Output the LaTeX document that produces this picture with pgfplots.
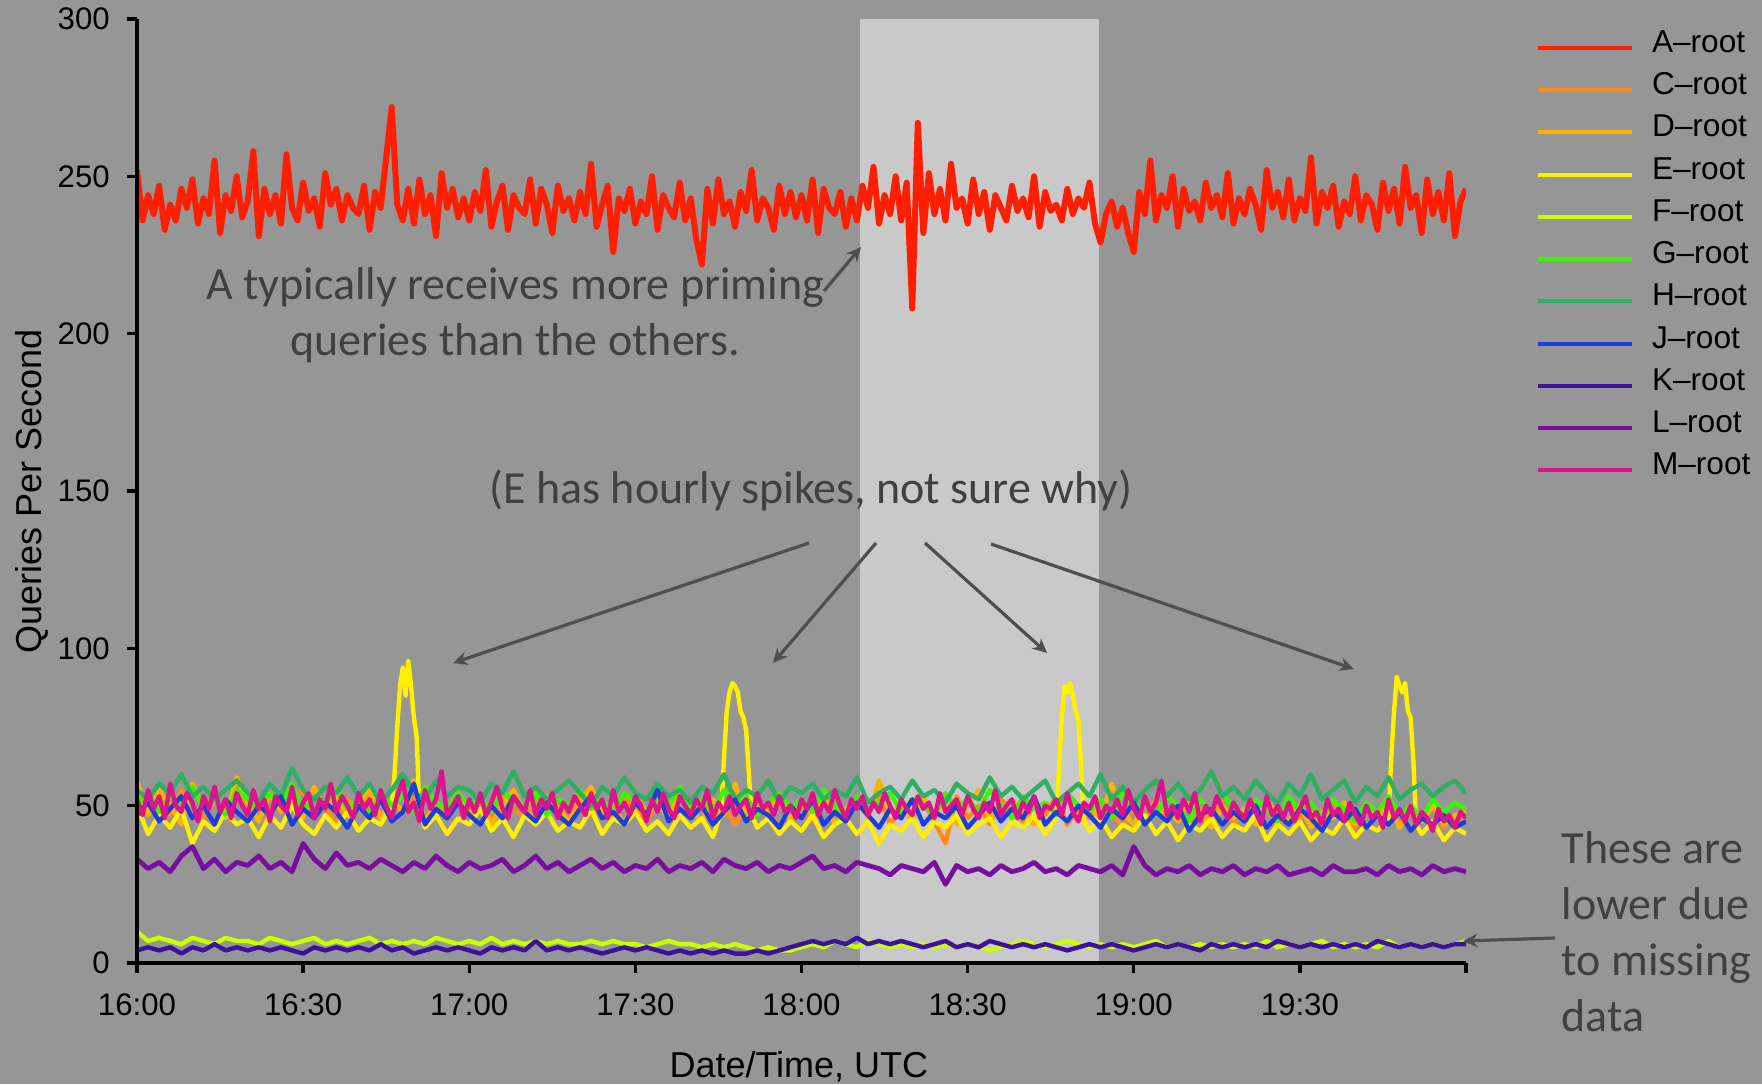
\documentclass[border=0pt]{standalone}
\usepackage{fontspec}
\setmainfont{Liberation Sans}
\newfontfamily\calibri{Carlito}
\usepackage{pgfplots}
\usepackage{pgfplotstable}
\pgfplotsset{compat=1.18}
\usetikzlibrary{arrows.meta}
\definecolor{bg}{RGB}{150,150,150}
\definecolor{shadecol}{RGB}{201,201,201}
\definecolor{anncol}{RGB}{64,64,64}
\definecolor{arrcol}{RGB}{78,78,78}
\definecolor{colA}{RGB}{255,30,0}
\definecolor{colC}{RGB}{255,140,25}
\definecolor{colD}{RGB}{255,179,0}
\definecolor{colE}{RGB}{255,240,0}
\definecolor{colF}{RGB}{204,255,0}
\definecolor{colG}{RGB}{60,245,0}
\definecolor{colH}{RGB}{46,176,98}
\definecolor{colJ}{RGB}{28,60,220}
\definecolor{colK}{RGB}{58,18,156}
\definecolor{colL}{RGB}{120,14,160}
\definecolor{colM}{RGB}{220,20,140}

\pgfplotstableread{
t A M
0 252 52
1 236 47
2 244 55
3 238 49
4 247 53
5 233 46
6 241 57
7 236 50
8 246 48
9 240 54
10 249 51
11 235 45
12 243 53
13 238 49
14 255 56
15 232 48
16 244 52
17 239 46
18 250 54
19 237 50
20 242 47
21 258 55
22 231 49
23 246 52
24 238 45
25 244 53
26 235 50
27 257 48
28 240 56
29 236 47
30 248 51
31 239 54
32 243 46
33 234 52
34 251 49
35 241 57
36 246 48
37 236 53
38 244 50
39 240 46
40 238 54
41 247 49
42 233 52
43 245 47
44 240 55
45 256 50
46 272 46
47 241 53
48 236 58
49 246 48
50 235 51
51 249 45
52 238 55
53 244 49
54 231 52
55 251 61
56 240 47
57 246 50
58 237 53
59 243 46
60 236 52
61 245 48
62 239 54
63 252 47
64 234 51
65 242 56
66 247 49
67 233 46
68 244 53
69 240 50
70 238 48
71 249 55
72 235 47
73 246 52
74 241 49
75 232 54
76 247 46
77 239 51
78 243 48
79 236 53
80 245 50
81 238 47
82 254 54
83 234 49
84 241 52
85 247 46
86 226 55
87 243 48
88 239 51
89 246 47
90 235 53
91 242 50
92 238 45
93 250 52
94 233 48
95 244 54
96 240 49
97 237 46
98 248 53
99 236 50
100 243 47
101 230 52
102 222 49
103 246 55
104 235 46
105 249 51
106 238 48
107 242 53
108 234 47
109 245 50
110 239 52
111 252 46
112 236 54
113 243 49
114 240 51
115 233 47
116 247 53
117 238 48
118 245 50
119 237 46
120 244 52
121 236 49
122 249 54
123 232 47
124 246 51
125 240 48
126 238 55
127 245 50
128 234 46
129 243 52
130 236 49
131 247 53
132 240 47
133 253 51
134 235 48
135 244 54
136 238 50
137 250 46
138 236 52
139 248 49
140 208 47
141 267 53
142 232 49
143 251 51
144 238 46
145 246 54
146 236 48
147 254 50
148 240 52
149 243 47
150 235 53
151 249 49
152 238 46
153 245 51
154 233 48
155 244 55
156 240 47
157 236 50
158 247 52
159 239 46
160 243 51
161 237 48
162 250 53
163 234 46
164 245 50
165 239 49
166 241 52
167 236 47
168 246 54
169 238 48
170 243 45
171 240 51
172 248 49
173 235 53
174 229 46
175 238 50
176 242 48
177 234 52
178 240 47
179 232 55
180 226 49
181 245 46
182 238 53
183 255 48
184 236 51
185 244 58
186 240 47
187 250 50
188 234 46
189 246 52
190 239 48
191 242 54
192 236 45
193 248 50
194 240 47
195 244 53
196 237 49
197 251 46
198 235 51
199 243 48
200 238 46
201 246 52
202 241 48
203 233 44
204 252 53
205 240 47
206 245 50
207 237 46
208 249 51
209 236 45
210 243 49
211 239 53
212 256 46
213 235 48
214 245 44
215 240 52
216 247 47
217 234 49
218 242 45
219 238 51
220 250 47
221 236 44
222 244 50
223 241 46
224 233 48
225 248 43
226 239 52
227 246 46
228 235 49
229 253 45
230 240 50
231 244 44
232 232 48
233 249 46
234 238 42
235 245 49
236 236 45
237 251 47
238 231 43
239 242 48
240 246 46
}\tabAM

\pgfplotstableread{
t C D G H J L K F
0 56 58 50 55 47 33 4 10
2 49 47 54 52 51 30 5 7
4 53 55 48 57 45 32 4 8
6 47 50 53 54 49 29 5 7
8 55 44 51 60 53 34 3 6
10 50 57 56 53 46 37 5 8
12 46 49 49 56 50 30 4 7
14 52 53 52 52 44 33 6 6
16 48 46 47 55 52 29 4 8
18 54 59 55 58 48 32 5 7
20 50 51 52 54 45 31 4 7
22 45 45 49 51 50 34 5 6
24 53 54 54 57 47 30 4 8
26 48 48 50 53 53 32 5 7
28 51 52 57 62 44 29 4 6
30 55 46 48 55 49 38 3 7
32 47 56 53 52 46 33 5 8
34 50 49 51 56 51 30 4 6
36 44 53 55 54 48 35 5 7
38 52 47 49 59 43 31 4 6
40 49 50 52 53 50 32 5 7
42 54 55 47 57 46 30 4 8
44 46 46 54 51 52 33 6 6
46 51 52 50 55 45 31 4 7
48 48 48 53 60 48 29 5 6
50 53 58 48 54 57 32 3 7
52 45 45 56 52 44 30 4 6
54 50 51 51 58 49 34 5 8
56 47 49 49 53 46 31 4 7
58 52 54 54 56 51 29 5 6
60 48 47 50 55 47 32 4 7
62 51 52 53 51 44 30 3 6
64 45 44 48 57 50 31 5 8
66 53 50 55 54 46 33 4 6
68 49 55 51 61 53 29 5 7
70 46 48 49 53 48 31 4 6
72 52 46 54 56 45 34 7 7
74 48 53 47 52 51 30 4 6
76 50 49 52 55 47 32 5 7
78 45 45 50 58 44 29 4 6
80 53 51 55 54 49 31 5 6
82 47 56 49 50 53 33 4 7
84 50 47 52 56 46 30 3 6
86 46 50 48 53 48 32 4 7
88 52 44 54 59 44 29 5 6
90 49 53 51 54 51 31 4 6
92 45 48 47 52 47 30 5 5
94 51 51 53 57 55 33 4 6
96 47 46 50 53 45 29 3 7
98 54 55 56 55 49 31 4 6
100 48 49 49 51 46 30 3 6
102 52 45 52 56 50 32 4 5
104 46 52 48 54 44 29 3 6
106 50 47 55 60 48 33 4 5
108 44 57 50 52 52 31 3 6
110 49 46 53 55 45 30 3 5
112 53 50 47 53 49 32 4 4
114 47 48 51 58 47 29 3 5
116 51 53 54 51 43 31 4 4
118 46 45 49 56 50 30 5 4
120 50 51 52 54 46 32 6 5
122 45 47 48 57 52 34 7 6
124 52 54 55 52 44 30 6 5
126 48 44 50 55 48 31 7 7
128 46 49 46 53 45 29 6 6
130 51 52 53 59 51 32 8 5
132 47 46 49 51 47 31 6 7
134 53 58 51 54 43 30 7 6
136 44 48 54 56 49 28 6 5
138 49 50 48 52 46 31 7 6
140 47 45 52 58 52 30 6 5
142 51 53 50 53 44 29 5 6
144 45 47 47 55 48 32 6 5
146 38 51 54 51 46 25 7 6
148 53 44 49 57 50 31 5 5
150 46 50 52 54 43 29 6 6
152 50 55 48 52 47 30 5 5
154 44 46 55 59 51 28 7 4
156 52 49 50 53 45 31 6 5
158 48 52 46 56 49 29 5 6
160 45 47 53 52 46 30 6 7
162 50 44 49 55 53 32 5 6
164 47 51 51 58 44 29 6 5
166 53 48 47 51 48 30 5 6
168 44 53 54 54 45 28 4 7
170 49 45 50 57 50 31 5 6
172 46 50 48 53 47 30 6 5
174 51 46 52 60 43 29 5 6
176 48 57 46 52 49 31 6 5
178 43 48 55 56 46 28 5 6
180 50 44 49 51 51 37 4 5
182 46 51 51 55 44 31 5 6
184 52 47 47 58 48 28 6 7
186 45 49 53 53 45 30 5 5
188 48 45 50 57 50 29 6 6
190 43 52 45 52 42 31 5 5
192 49 48 52 55 47 28 4 6
194 46 43 48 61 49 30 6 5
196 51 50 54 53 44 29 5 6
198 44 46 49 56 48 31 6 5
200 48 49 47 52 45 28 5 6
202 45 44 52 58 50 30 6 5
204 50 52 49 54 43 29 5 7
206 43 47 45 51 47 31 7 5
208 52 45 53 57 44 28 6 6
210 46 50 48 53 49 29 5 5
212 48 43 51 60 46 30 6 6
214 44 48 46 52 42 28 5 7
216 51 46 52 55 48 31 6 5
218 47 51 49 58 45 29 5 6
220 43 44 45 51 49 29 6 5
222 49 49 51 56 43 30 5 6
224 46 46 48 53 47 28 7 5
226 50 51 53 59 44 31 6 7
228 44 43 47 52 48 29 5 5
230 48 48 50 55 42 30 6 6
232 45 45 46 57 46 28 5 5
234 50 50 52 53 44 31 6 6
236 43 44 48 56 47 29 5 5
238 47 47 51 58 43 30 6 6
240 46 48 49 54 45 29 6 7
}\tabTwo

\pgfplotstableread{
t E
0 50
2 41
4 47
6 43
8 49
10 38
12 45
14 42
16 48
18 44
20 46
22 40
24 47
26 43
28 50
30 44
32 41
34 47
36 43
38 48
40 42
42 46
44 44
46 50
46.5 60
47 75
47.5 88
48 94
48.5 85
49 96
49.5 88
50 78
50.5 72
51 48
52 43
54 47
56 41
58 46
60 44
62 49
64 42
66 46
68 40
70 47
72 44
74 48
76 42
78 45
80 43
82 49
84 41
86 46
88 44
90 48
92 42
94 45
96 41
98 47
100 43
102 46
104 40
105.5 48
106 65
106.5 80
107 86
107.5 89
108 88
108.5 86
109 80
109.5 78
110 74
110.5 60
111 47
112 43
114 46
116 41
118 45
120 42
122 47
124 40
126 44
128 46
130 41
132 45
134 38
136 44
138 42
140 46
142 40
144 45
146 43
148 47
150 41
152 44
154 46
156 40
158 45
160 43
162 47
164 41
166 46
166.5 62
167 78
167.5 88
168 86
168.5 89
169 85
169.5 80
170 77
170.5 62
171 45
172 42
174 46
176 40
178 44
180 42
182 47
184 41
186 45
188 39
190 44
192 42
194 46
196 40
198 44
200 42
202 47
204 39
206 44
208 41
210 45
212 39
214 43
216 41
218 46
220 40
222 44
224 42
226 46
226.5 65
227 80
227.5 91
228 88
228.5 86
229 89
229.5 80
230 78
230.5 64
231 44
232 41
234 45
236 39
238 43
240 41
}\tabE

\begin{document}
\begin{tikzpicture}
\useasboundingbox (0,0) rectangle (440.5pt,271pt);
\fill[bg] (0,0) rectangle (440.5pt,271pt);
\begin{axis}[
  at={(34.25pt,30.25pt)}, anchor=south west,
  width=332.25pt, height=236pt, scale only axis,
  xmin=0, xmax=240, ymin=0, ymax=300,
  axis lines*=left, axis on top,
  axis line style={line width=0.85pt, black},
  xtick={0,30,...,240},
  xticklabels={16:00,16:30,17:00,17:30,18:00,18:30,19:00,19:30,},
  ytick={0,50,...,300},
  tick align=outside, major tick length=2.5pt,
  tick style={line width=0.85pt, black},
  /pgf/number format/assume math mode=true,
  ticklabel style={font=\fontsize{7.8}{9}\selectfont, text=black},
  xticklabel style={anchor=base, inner sep=0pt, yshift=-10.5pt},
  yticklabel style={anchor=east, inner sep=0pt, xshift=-4.1pt},
  xlabel={Date/Time, UTC}, ylabel={Queries Per Second},
  label style={font=\fontsize{9}{10}\selectfont, text=black},
  xlabel style={at={(axis description cs:0.498,-0.1208)}, anchor=base},
  ylabel style={at={(axis description cs:-0.0715,0.5)}, anchor=base},
  legend style={at={(axis description cs:1.0527,0.9918)}, anchor=north west,
    draw=none, fill=none, inner sep=0pt, outer sep=0pt,
    row sep=0pt, column sep=4.5pt,
    font=\fontsize{7.9}{9}\selectfont, text=black,
    nodes={inner sep=0pt, text height=6.4pt, text depth=4.16pt}},
  legend cell align=left,
  legend image code/.code={\draw[#1, line width=1pt] (0pt,0pt) -- (23.5pt,0pt);},
  every axis plot/.append style={line join=round},
]
\fill[shadecol] (axis cs:130.5,0) rectangle (axis cs:173.8,300);
\addplot[colA, line width=1.5pt] table[x=t, y=A] {\tabAM};
\addlegendentry{A–root}
\addplot[colC, line width=1.1pt] table[x=t, y=C] {\tabTwo};
\addlegendentry{C–root}
\addplot[colD, line width=1.1pt] table[x=t, y=D] {\tabTwo};
\addlegendentry{D–root}
\addplot[colE, line width=1.1pt] table[x=t, y=E] {\tabE};
\addlegendentry{E–root}
\addplot[colF, line width=1.1pt] table[x=t, y=F] {\tabTwo};
\addlegendentry{F–root}
\addplot[colG, line width=1.1pt] table[x=t, y=G] {\tabTwo};
\addlegendentry{G–root}
\addplot[colH, line width=1.1pt] table[x=t, y=H] {\tabTwo};
\addlegendentry{H–root}
\addplot[colJ, line width=1.1pt] table[x=t, y=J] {\tabTwo};
\addlegendentry{J–root}
\addplot[colK, line width=1.1pt] table[x=t, y=K] {\tabTwo};
\addlegendentry{K–root}
\addplot[colL, line width=1.2pt] table[x=t, y=L] {\tabTwo};
\addlegendentry{L–root}
\addplot[colM, line width=1.1pt] table[x=t, y=M] {\tabAM};
\addlegendentry{M–root}
\end{axis}
\begin{scope}[x=0.25pt, y=-0.25pt, yshift=271pt,
  every node/.style={font=\calibri\fontsize{11.5}{14}\selectfont, text=anncol, inner sep=0pt},
  arr/.style={draw=arrcol, line width=0.8pt, -{Stealth[length=3.6pt,width=3.4pt]}}]
\node[anchor=base] at (515,299) {A typically receives more priming};
\node[anchor=base] at (515,355) {queries than the others.};
\node[anchor=base] at (811,503) {(E has hourly spikes, not sure why)};
\node[anchor=base west] at (1561,863) {These are};
\node[anchor=base west] at (1561,919) {lower due};
\node[anchor=base west] at (1561,975) {to missing};
\node[anchor=base west] at (1561,1031) {data};
\draw[arr] (824,291) -- (861,247);
\draw[arr] (809,543) -- (453,663);
\draw[arr] (876,543) -- (773,663);
\draw[arr] (925,543) -- (1047,653);
\draw[arr] (991,544) -- (1354,669);
\draw[arr] (1555,938) -- (1463,941);
\end{scope}
\end{tikzpicture}
\end{document}
